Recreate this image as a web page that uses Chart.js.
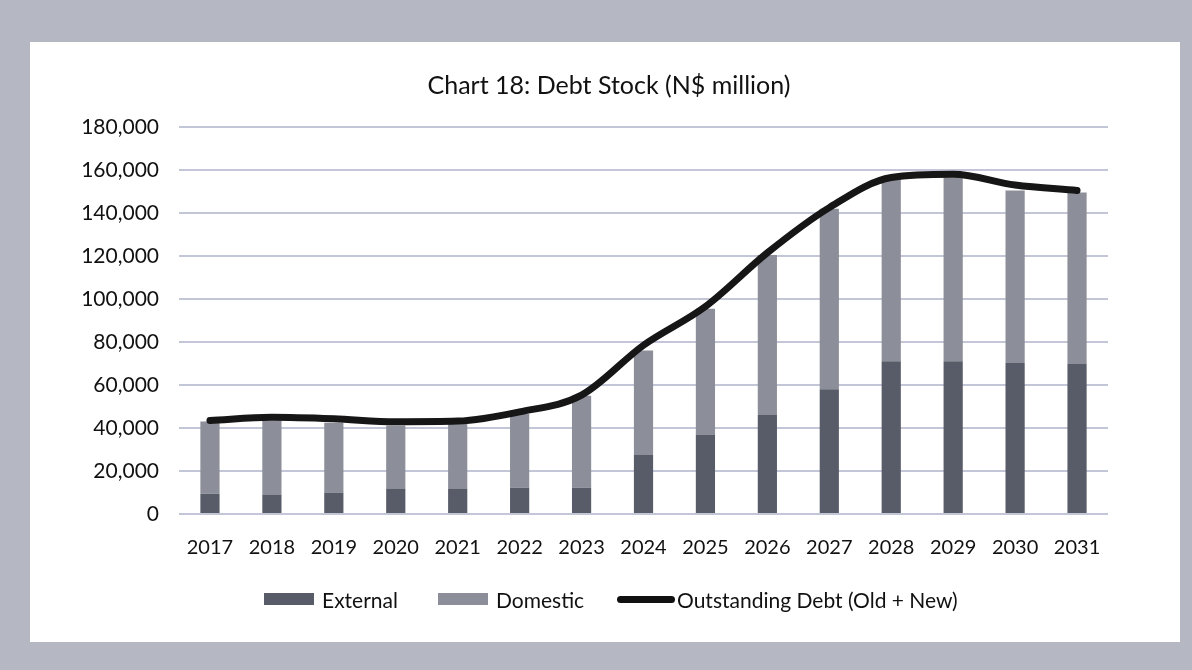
<!DOCTYPE html>
<html lang="en">
<head>
<meta charset="UTF-8" />
<title>Chart 18: Debt Stock</title>
<script src="https://cdn.jsdelivr.net/npm/chart.js"></script>
<style>
  html, body {
    margin: 0;
    width: 1192px;
    height: 670px;
    overflow: hidden;
    background: #b5b7c3;
    font-family: Lato, 'Open Sans', sans-serif;
    color: #111;
  }
  .panel {
    position: absolute;
    left: 30px;
    top: 42px;
    width: 1150px;
    height: 600px;
    background: #fff;
  }
  #debt-chart {
    position: absolute;
    left: 0;
    top: 0;
  }
  .title {
    position: absolute;
    left: 309px;
    width: 600px;
    top: 69px;
    text-align: center;
    font-size: 25px;
    line-height: 30px;
    white-space: nowrap;
  }
  .legend .item {
    position: absolute;
    top: 586px;
    height: 26px;
    display: flex;
    align-items: center;
    font-size: 21px;
    white-space: nowrap;
  }
  .legend .box { display: inline-block; width: 50px; height: 12px; margin-right: 8px; }
  .legend .ln { display: inline-block; width: 58px; height: 7px; border-radius: 4px; background: #111; margin-right: 2px; }
</style>
</head>
<body>
<div class="panel"></div>
<canvas id="debt-chart" width="1192" height="670"></canvas>
<div class="title">Chart 18: Debt Stock (N$ million)</div>
<div class="legend">
  <span class="item" style="left:264px"><span class="box" style="background:#585c68"></span>External</span>
  <span class="item" style="left:438px"><span class="box" style="background:#8c8f99"></span>Domestic</span>
  <span class="item" style="left:617px"><span class="ln"></span>Outstanding Debt (Old + New)</span>
</div>

<script>
  // years on the x axis
  const years = ['2017', '2018', '2019', '2020', '2021', '2022', '2023', '2024',
                 '2025', '2026', '2027', '2028', '2029', '2030', '2031'];

  // N$ million
  const external = [9500, 9000, 10000, 11800, 11800, 12300, 12300, 27500,
                    37000, 46000, 58000, 71000, 71000, 70200, 69800];
  const domestic = [33500, 34500, 32500, 29400, 30200, 34200, 42700, 48500,
                    58500, 74500, 84000, 84500, 85500, 80300, 79700];
  const outstanding = [43500, 45000, 44300, 42900, 43200, 47500, 55300, 78500,
                       96500, 121500, 142500, 156500, 158000, 153000, 150500];

  const yTicks = [0, 20000, 40000, 60000, 80000, 100000, 120000, 140000, 160000, 180000];

  const textColor = '#111';

  new Chart(document.getElementById('debt-chart').getContext('2d'), {
    type: 'bar',
    data: {
      labels: years,
      datasets: [
        {
          type: 'line',
          label: 'Outstanding Debt (Old + New)',
          data: outstanding,
          stack: 'total',
          order: 0,
          borderColor: '#161616',
          borderWidth: 7,
          borderCapStyle: 'round',
          borderJoinStyle: 'round',
          tension: 0.4,
          cubicInterpolationMode: 'monotone',
          pointRadius: 0,
          fill: false
        },
        {
          label: 'External',
          data: external,
          stack: 'debt',
          order: 1,
          backgroundColor: '#585c68',
          barPercentage: 0.31,
          categoryPercentage: 1
        },
        {
          label: 'Domestic',
          data: domestic,
          stack: 'debt',
          order: 1,
          backgroundColor: '#8c8f99',
          barPercentage: 0.31,
          categoryPercentage: 1
        }
      ]
    },
    options: {
      responsive: false,
      animation: false,
      layout: { padding: { left: 82, right: 84, top: 127, bottom: 108 } },
      plugins: {
        legend: { display: false },
        tooltip: { enabled: false }
      },
      scales: {
        x: {
          stacked: true,
          grid: { display: false, drawTicks: false },
          border: { display: false },
          afterFit: (scale) => { scale.height = 48; },
          ticks: {
            color: textColor,
            padding: 22,
            maxRotation: 0,
            minRotation: 0,
            autoSkip: false,
            font: { family: 'Lato', size: 20 }
          }
        },
        y: {
          stacked: true,
          min: 0,
          max: 180000,
          afterFit: (scale) => { scale.width = 97; },
          afterBuildTicks: (scale) => { scale.ticks = yTicks.map(v => ({ value: v })); },
          grid: { color: '#c3c6d6', lineWidth: 2, drawTicks: false },
          border: { display: false },
          ticks: {
            color: textColor,
            padding: 20,
            font: { family: 'Lato', size: 21 },
            callback: (v) => v.toLocaleString('en-US')
          }
        }
      }
    }
  });
</script>
</body>
</html>
